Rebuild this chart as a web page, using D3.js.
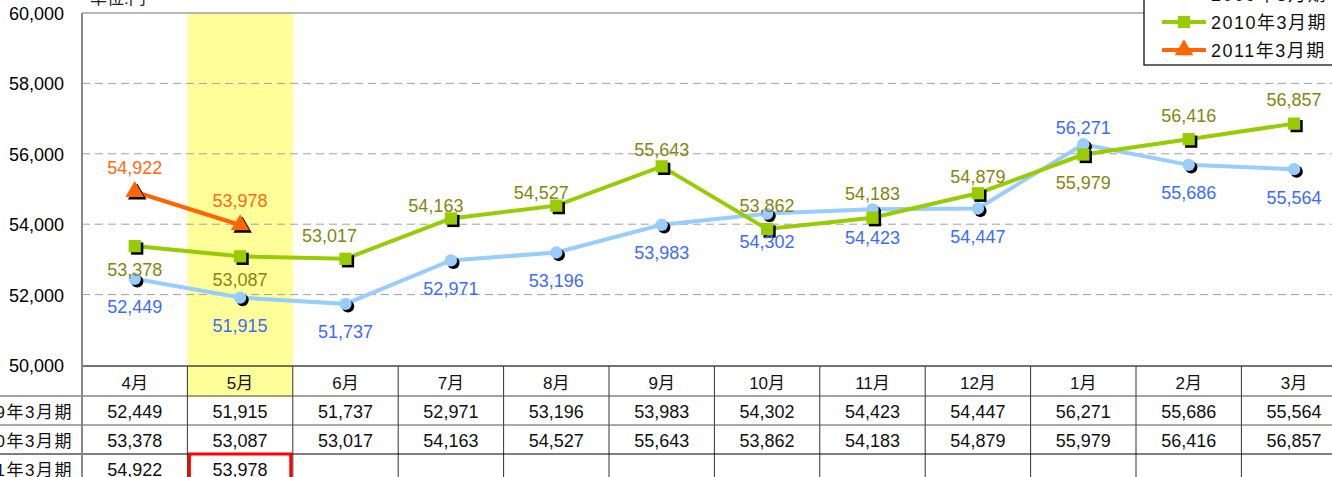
<!doctype html>
<html>
<head>
<meta charset="utf-8">
<script src="https://d3js.org/d3.v7.min.js"></script>
<style>
  body { margin: 0; background: #fff; overflow: hidden; }
  svg { display: block; font-family: "Liberation Sans", "Noto Sans CJK JP", sans-serif; }
</style>
</head>
<body>
<svg width="1332" height="477"></svg>
<script>
// chart data
var months = ["4月","5月","6月","7月","8月","9月","10月","11月","12月","1月","2月","3月"];
var seriesNames = ["2009年3月期","2010年3月期","2011年3月期"];
var fy2009 = [52449,51915,51737,52971,53196,53983,54302,54423,54447,56271,55686,55564];
var fy2010 = [53378,53087,53017,54163,54527,55643,53862,54183,54879,55979,56416,56857];
var fy2011 = [54922,53978];
var yTicks = [50000,52000,54000,56000,58000,60000];
// where each point label sits: b below, n near below, a above, h near above, L/l above-left
var place2009 = ["b","b","b","b","b","b","b","b","b","h","b","b"];
var place2010 = ["n","n","L","l","l","h","a","a","h","b","a","a"];
var place2011 = ["a","a"];

var svg = d3.select("svg");
var fmt = d3.format(",");

var plotLeft = 82, plotTop = 13, plotBottom = 365, colW = 105.4;
var x = d3.scaleBand().domain(months).range([plotLeft, plotLeft + colW * months.length]);
var y = d3.scaleLinear().domain([50000, 60000]).range([plotBottom, plotTop]);
var cx = function(i) { return x(months[i]) + x.bandwidth() / 2; };

// label offsets (dx, dy of text centre) for each placement code
var offs = { b: [0, 28], n: [0, 23], a: [0, -24], h: [0, -17], L: [-16, -23], l: [-15, -13] };

// highlight column for 5月
svg.append("rect")
  .attr("x", x("5月")).attr("y", plotTop)
  .attr("width", x.bandwidth()).attr("height", 397 - plotTop)
  .attr("fill", "#ffff99");

// grid
svg.append("g").selectAll("line")
  .data(yTicks.filter(function(d){ return d > 50000 && d < 60000; }))
  .enter().append("line")
    .attr("x1", plotLeft).attr("x2", 1332)
    .attr("y1", function(d){ return y(d); }).attr("y2", function(d){ return y(d); })
    .attr("stroke", "#a0a0a0").attr("stroke-dasharray", "8,5");

svg.append("line").attr("x1", plotLeft).attr("x2", 1332).attr("y1", y(60000)).attr("y2", y(60000))
  .attr("stroke", "#a0a0a0").attr("stroke-width", 1.5);

// y tick labels
svg.append("g").selectAll("text")
  .data(yTicks).enter().append("text")
    .attr("x", 64).attr("y", function(d){ return y(d) + 7; })
    .attr("text-anchor", "end")
    .style("font-size", "18px").attr("fill", "#000")
    .text(function(d){ return fmt(d); });

svg.append("text").attr("x", 90).attr("y", 4)
  .style("font-size", "17px").attr("fill", "#222").text("単位:円");

// data table
var rowTop = [366, 396, 425, 454, 484];
var tbl = svg.append("g");
tbl.selectAll("line.v")
  .data(d3.range(months.length + 1)).enter().append("line")
    .attr("x1", function(i){ return plotLeft + i * colW; }).attr("x2", function(i){ return plotLeft + i * colW; })
    .attr("y1", rowTop[0]).attr("y2", 477)
    .attr("stroke", "#333").attr("stroke-width", 1);
tbl.append("line").attr("x1", plotLeft).attr("x2", 1332).attr("y1", rowTop[0]).attr("y2", rowTop[0]).attr("stroke", "#444").attr("stroke-width", 1.5);
tbl.append("line").attr("x1", 0).attr("x2", 1332).attr("y1", rowTop[1]).attr("y2", rowTop[1]).attr("stroke", "#444");
tbl.append("line").attr("x1", 0).attr("x2", 1332).attr("y1", rowTop[2]).attr("y2", rowTop[2]).attr("stroke", "#555");
tbl.append("line").attr("x1", 0).attr("x2", 1332).attr("y1", rowTop[3]).attr("y2", rowTop[3]).attr("stroke", "#000");

tbl.selectAll("text.m").data(months).enter().append("text")
  .attr("x", function(d){ return x(d) + x.bandwidth() / 2; }).attr("y", 389)
  .attr("text-anchor", "middle").style("font-size", "17px").attr("fill", "#111")
  .text(function(d){ return d; });

[fy2009, fy2010, fy2011].forEach(function(vals, r) {
  tbl.append("text").attr("x", 73).attr("y", rowTop[r + 1] + 22)
    .attr("text-anchor", "end").style("font-size", "17px").attr("fill", "#111")
    .style("letter-spacing", "1.5px")
    .text(seriesNames[r]);
  tbl.selectAll("text.r" + r).data(vals).enter().append("text")
    .attr("x", function(d, i){ return cx(i); }).attr("y", rowTop[r + 1] + 22)
    .attr("text-anchor", "middle").style("font-size", "18px").attr("fill", "#111")
    .text(function(d){ return fmt(d); });
});

// red box round the latest value
tbl.append("rect").attr("x", x("5月") + 2).attr("y", rowTop[3])
  .attr("width", x.bandwidth() - 4).attr("height", 40)
  .attr("fill", "none").attr("stroke", "#ff0000").attr("stroke-width", 3);

// left axis line
svg.append("line").attr("x1", plotLeft).attr("x2", plotLeft).attr("y1", plotTop).attr("y2", 477)
  .attr("stroke", "#888").attr("stroke-width", 2);

// series
var series = [
  { vals: fy2009, line: "#99ccff", label: "#3d6bff", shape: d3.symbolCircle, size: 120, place: place2009 },
  { vals: fy2010, line: "#99cc00", label: "#858510", shape: d3.symbolSquare, size: 150, place: place2010 },
  { vals: fy2011, line: "#ff6600", label: "#ff6a10", shape: d3.symbolTriangle, size: 150, place: place2011 }
];
var line = d3.line().x(function(d, i){ return cx(i); }).y(function(d){ return y(d); });

series.forEach(function(s) {
  svg.append("path").datum(s.vals).attr("d", line)
    .attr("fill", "none").attr("stroke", s.line).attr("stroke-width", 4);
});
series.forEach(function(s) {
  var g = svg.append("g");
  g.selectAll("path.sh").data(s.vals).enter().append("path")
    .attr("d", d3.symbol().type(s.shape).size(s.size))
    .attr("transform", function(d, i){ return "translate(" + (cx(i) + 2.5) + "," + (y(d) + 2.5) + ")"; })
    .attr("fill", "#000");
  g.selectAll("path.mk").data(s.vals).enter().append("path")
    .attr("d", d3.symbol().type(s.shape).size(s.size))
    .attr("transform", function(d, i){ return "translate(" + cx(i) + "," + y(d) + ")"; })
    .attr("fill", s.line);
});
series.forEach(function(s) {
  svg.append("g").selectAll("text").data(s.vals).enter().append("text")
    .attr("x", function(d, i){ return cx(i) + offs[s.place[i]][0]; })
    .attr("y", function(d, i){ return y(d) + offs[s.place[i]][1] + 6.5; })
    .attr("text-anchor", "middle").style("font-size", "18px").attr("fill", s.label)
    .text(function(d){ return fmt(d); });
});

// legend
var lg = svg.append("g");
lg.append("rect").attr("x", 1144).attr("y", -30).attr("width", 220).attr("height", 95)
  .attr("fill", "#fff").attr("stroke", "#000").attr("stroke-width", 1.2);
series.forEach(function(s, i) {
  var ly = -6 + i * 28;
  lg.append("line").attr("x1", 1162).attr("x2", 1206).attr("y1", ly).attr("y2", ly)
    .attr("stroke", s.line).attr("stroke-width", 4);
  lg.append("path").attr("d", d3.symbol().type(s.shape).size(s.size))
    .attr("transform", "translate(1184," + ly + ")").attr("fill", s.line);
  lg.append("text").attr("x", 1211).attr("y", ly + 7)
    .style("font-size", "18px").style("letter-spacing", "1.5px").attr("fill", "#111").text(seriesNames[i]);
});
</script>
</body>
</html>
